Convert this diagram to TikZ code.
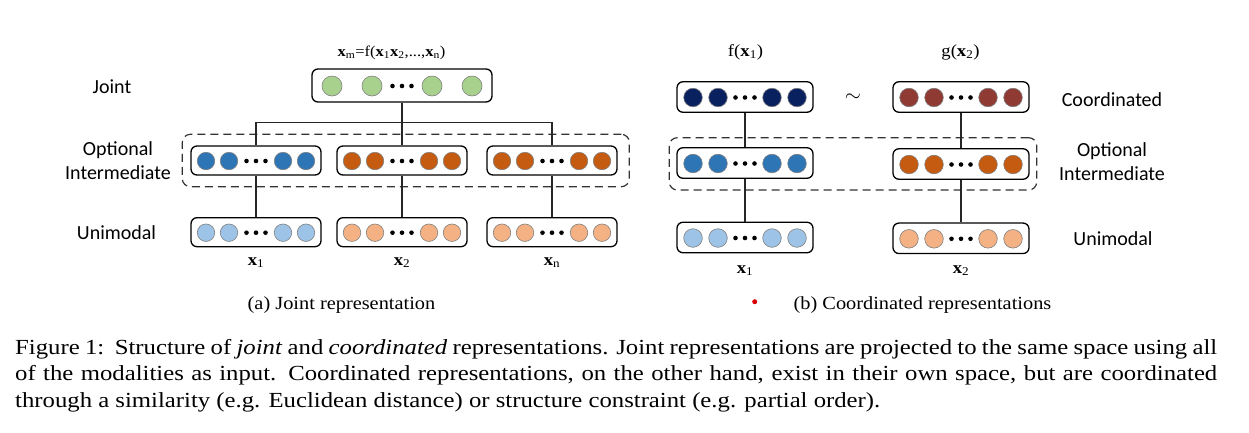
\documentclass[tikz,border=0pt]{standalone}
\usepackage{fontspec}
\newfontfamily\lab{Carlito}
\newfontfamily\pal[FakeStretch=1.1]{Liberation Serif}
\newfontfamily\palw[FakeStretch=1.15]{Liberation Serif}
\usetikzlibrary{calc}
\definecolor{jointgreen}{HTML}{A9D18E}
\definecolor{midblue}{HTML}{2E75B6}
\definecolor{midorange}{HTML}{C55A11}
\definecolor{lightblue}{HTML}{9DC3E6}
\definecolor{lightorange}{HTML}{F4B183}
\definecolor{navyc}{HTML}{0A2160}
\definecolor{darkredc}{HTML}{8F3A33}
\tikzset{
  rowbox/.style={draw, line width=1.3pt, rounded corners=6pt, fill=white, inner sep=0pt},
  cell/.style={circle, draw=black!50, line width=0.6pt, inner sep=0pt, minimum size=#1},
  dotc/.style={circle, fill=black, inner sep=0pt, minimum size=4.6pt},
  conn/.style={line width=1.2pt, draw=black!85},
  optbox/.style={draw=black!80, line width=1.2pt, dash pattern=on 8pt off 5pt, rounded corners=8pt},
  sidelabel/.style={font=\lab\fontsize{20}{24}\selectfont, align=center, inner sep=0pt},
  seriflabel/.style={font=\pal\fontsize{17}{20}\selectfont, inner sep=0pt},
  subcap/.style={font=\pal\fontsize{18.5}{22}\selectfont, inner sep=0pt},
  capline/.style={font=\palw\fontsize{21.5}{26}\selectfont, inner sep=0pt, anchor=base west},
}
% name, x, y, width, height, colour, inner offset, outer offset, diameter
\newcommand\vecrow[9]{%
  \node[rowbox, minimum width=#4pt, minimum height=#5pt] (#1) at (#2,#3) {};
  \foreach \dx/\k in {-#8/a,-#7/b,#7/c,#8/d}
    \node[cell=#9pt, fill=#6] (#1-\k) at ($(#1.center)+(\dx,0.5)$) {};
  \foreach \dx/\k in {-9.5/p,0/q,9.5/r}
    \node[dotc] (#1-\k) at ($(#1.center)+(\dx,0.5)$) {};
}
\newcommand\bx[1]{\textbf{x}\textsubscript{#1}}
\begin{document}
\begin{tikzpicture}[x=1pt,y=-1pt]
\useasboundingbox[fill=white] (0,0) rectangle (1249,432);

% ---------- (a) joint ----------
\node[optbox, minimum width=447pt, minimum height=52.4pt, inner sep=0pt] (optA) at (405.8,160.5) {};
\vecrow{joint}{402}{85.5}{180}{33}{jointgreen}{30}{70}{20}
\vecrow{ia}{256}{160.5}{130}{29}{midblue}{27}{50}{17.5}
\vecrow{ib}{402}{160.5}{130}{29}{midorange}{27}{50}{17.5}
\vecrow{ic}{552}{160.5}{130}{29}{midorange}{27}{50}{17.5}
\vecrow{ua}{256}{232.2}{130}{29}{lightblue}{27}{50}{17.5}
\vecrow{ub}{402}{232.2}{130}{29}{lightorange}{27}{50}{17.5}
\vecrow{uc}{552}{232.2}{130}{29}{lightorange}{27}{50}{17.5}

\coordinate (bus) at (402,122.3);
\draw[conn] (joint.south) -- (bus);
\draw[conn] (ia.north) |- (bus);
\draw[conn] (ic.north) |- (bus);
\draw[conn] (ib.north) -- (bus);
\draw[conn] (ia.south) -- (ua.north);
\draw[conn] (ib.south) -- (ub.north);
\draw[conn] (ic.south) -- (uc.north);

\node[font=\pal\fontsize{15}{18}\selectfont, inner sep=0pt, anchor=base] (xm) at (391.5,56) {\textbf{x}\textsubscript{m}=f(\bx{1}\bx{2},...,\bx{n})};
\node[seriflabel, anchor=base] (lx1) at (256,265) {\bx{1}};
\node[seriflabel, anchor=base] (lx2) at (402,265) {\bx{2}};
\node[seriflabel, anchor=base] (lxn) at (552,265) {\bx{n}};

\node[sidelabel] (ljoint) at (112,86.7) {Joint};
\node[sidelabel] (lopt) at (118,160.6) {Optional\\Intermediate};
\node[sidelabel] (luni) at (116.5,232.3) {Unimodal};

\node[subcap, anchor=base] (capa) at (341.5,309) {(a) Joint representation};

% ---------- (b) coordinated ----------
\node[optbox, minimum width=367.4pt, minimum height=52.3pt, inner sep=0pt] (optB) at (853,163.85) {};
\vecrow{ca}{745}{97}{136}{30.5}{navyc}{27}{52}{18.6}
\vecrow{cb}{961}{97}{136}{30.5}{darkredc}{27}{52}{18.6}
\vecrow{ma}{745}{163}{136}{30.5}{midblue}{27}{52}{18.6}
\vecrow{mb}{961}{164}{136}{30.5}{midorange}{27}{52}{18.6}
\vecrow{va}{745}{237.5}{136}{30.5}{lightblue}{27}{52}{18.6}
\vecrow{vb}{961}{238.3}{136}{30.5}{lightorange}{27}{52}{18.6}

\draw[conn] (ca.south) -- (ma.north);
\draw[conn] (ma.south) -- (va.north);
\draw[conn] (cb.south) -- (mb.north);
\draw[conn] (mb.south) -- (vb.north);

\node[font=\fontsize{20}{24}\selectfont, inner sep=0pt] (tilde) at (853,98) {$\sim$};

\node[seriflabel, anchor=base] (fx) at (745.5,56) {f(\bx{1})};
\node[seriflabel, anchor=base] (gx) at (960.5,56) {g(\bx{2})};
\node[seriflabel, anchor=base] (rx1) at (745,273) {\bx{1}};
\node[seriflabel, anchor=base] (rx2) at (961,273) {\bx{2}};

\node[sidelabel] (lcoord) at (1112,99.3) {Coordinated};
\node[sidelabel] (lopt2) at (1112,161.5) {Optional\\Intermediate};
\node[sidelabel] (luni2) at (1113,238.3) {Unimodal};

\node[circle, fill=red!85!black, inner sep=0pt, minimum size=5pt] (reddot) at (754.7,301.7) {};
\node[subcap, anchor=base] (capb) at (922.5,309) {(b) Coordinated representations};

% ---------- figure caption ----------
\node[capline] (cap1) at (15,354) {\makebox[1202pt][s]{Figure 1:\ \ Structure of \textit{joint} and \textit{coordinated} representations. Joint representations are projected to the same space using all}};
\node[capline] (cap2) at (15,380.5) {\makebox[1202pt][s]{of the modalities as input. Coordinated representations, on the other hand, exist in their own space, but are coordinated}};
\node[capline] (cap3) at (15,407) {through a similarity (e.g. Euclidean distance) or structure constraint (e.g. partial order).};
\end{tikzpicture}
\end{document}
